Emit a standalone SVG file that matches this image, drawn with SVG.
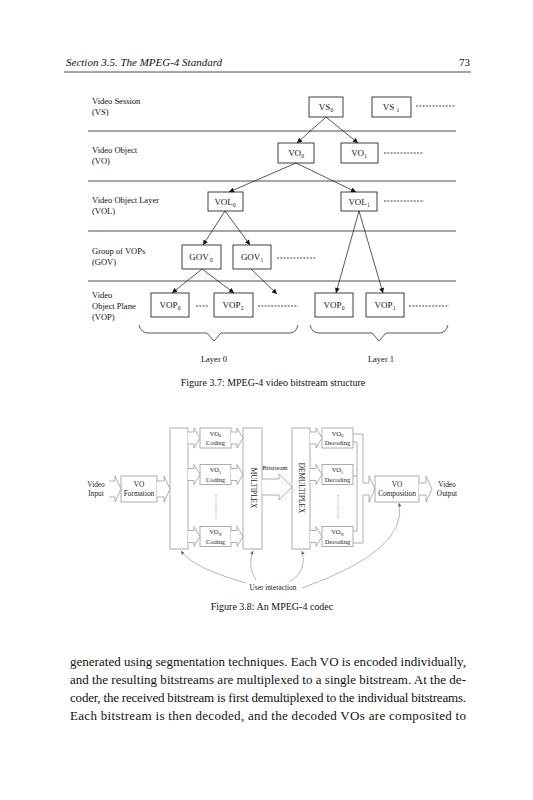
<svg xmlns="http://www.w3.org/2000/svg" width="533" height="800" viewBox="0 0 533 800">
<style>
text{font-family:"Liberation Serif","Times New Roman",serif;fill:#111}
.hdr{font-size:11px;font-style:italic}
.lab{font-size:8.5px}
.bt{font-size:9px;text-anchor:middle}
.sub{font-size:5.5px}
.cap{font-size:10px;text-anchor:middle}
.box{fill:#fff;stroke:#111;stroke-width:0.8}
.rule{stroke:#222;stroke-width:0.8}
.ln{stroke:#111;stroke-width:0.7;fill:none}
.dots{stroke:#111;stroke-width:0.8;stroke-dasharray:2 1.3}
.cb{fill:#fff;stroke:#9a9a9a;stroke-width:0.8}
.ha{fill:#fff;stroke:#9a9a9a;stroke-width:0.8}
.gl{fill:none;stroke:#9a9a9a;stroke-width:0.8}
.cu{fill:none;stroke:#888;stroke-width:0.6}
.ct{font-size:7.3px;text-anchor:middle;fill:#222}
.cbt{font-size:6.5px;text-anchor:middle;fill:#222}
.cs{font-size:4.5px}
.vd{stroke:#777;stroke-width:0.8;stroke-dasharray:1 1.2}
.body{font-size:13px}
</style>
<defs>
<marker id="ah" viewBox="0 0 10 10" refX="10" refY="5" markerWidth="6" markerHeight="5" markerUnits="userSpaceOnUse" orient="auto"><path d="M0,0 L10,5 L0,10 z" fill="#111"/></marker>
<marker id="gh" viewBox="0 0 10 10" refX="10" refY="5" markerWidth="4" markerHeight="3.5" markerUnits="userSpaceOnUse" orient="auto"><path d="M0,0 L10,5 L0,10 z" fill="#666"/></marker>
</defs>

<g id="header">
<text class="hdr" x="66" y="66">Section 3.5.  The MPEG-4 Standard</text>
<text class="hdr" x="470" y="66" text-anchor="end" style="font-style:normal">73</text>
<line class="rule" x1="64" y1="72" x2="471" y2="72"/>
</g>

<!-- Figure 3.7 -->
<g id="fig37-rules">
<line class="rule" x1="88" y1="131" x2="456" y2="131"/>
<line class="rule" x1="88" y1="181" x2="456" y2="181"/>
<line class="rule" x1="88" y1="231" x2="456" y2="231"/>
<line class="rule" x1="88" y1="281" x2="456" y2="281"/>
</g>
<g id="fig37-labels">
<text class="lab" x="92" y="104">Video Session</text>
<text class="lab" x="92" y="115">(VS)</text>
<text class="lab" x="92" y="153">Video Object</text>
<text class="lab" x="92" y="164">(VO)</text>
<text class="lab" x="92" y="203">Video Object Layer</text>
<text class="lab" x="92" y="214">(VOL)</text>
<text class="lab" x="92" y="254">Group of VOPs</text>
<text class="lab" x="92" y="265">(GOV)</text>
<text class="lab" x="92" y="298">Video</text>
<text class="lab" x="92" y="309">Object Plane</text>
<text class="lab" x="92" y="320">(VOP)</text>
</g>

<g id="VS0"><rect class="box" x="309" y="97" width="34" height="20"/><text class="bt" x="326" y="110">VS<tspan class="sub" dy="2">0</tspan></text></g>
<g id="VS1"><rect class="box" x="372" y="97" width="39" height="20"/><text class="bt" x="391" y="110">VS <tspan class="sub" dy="2">1</tspan></text></g>
<line class="dots" x1="416" y1="106" x2="455" y2="106"/>

<g id="VO0"><rect class="box" x="278" y="143" width="36" height="20"/><text class="bt" x="296" y="156">VO<tspan class="sub" dy="2">0</tspan></text></g>
<g id="VO1"><rect class="box" x="341" y="143" width="37" height="20"/><text class="bt" x="359" y="156">VO<tspan class="sub" dy="2">1</tspan></text></g>
<line class="dots" x1="384" y1="153" x2="423" y2="153"/>

<g id="VOL0"><rect class="box" x="208" y="192" width="35" height="19"/><text class="bt" x="225" y="205">VOL<tspan class="sub" dy="2">0</tspan></text></g>
<g id="VOL1"><rect class="box" x="341" y="192" width="36" height="19"/><text class="bt" x="359" y="205">VOL<tspan class="sub" dy="2">1</tspan></text></g>
<line class="dots" x1="384" y1="201" x2="424" y2="201"/>

<g id="GOV0"><rect class="box" x="182" y="245" width="39" height="24"/><text class="bt" x="201" y="260">GOV<tspan class="sub" dy="2"> 0</tspan></text></g>
<g id="GOV1"><rect class="box" x="233" y="245" width="38" height="24"/><text class="bt" x="252" y="260">GOV<tspan class="sub" dy="2">1</tspan></text></g>
<line class="dots" x1="277" y1="258" x2="316" y2="258"/>

<g id="VOP0a"><rect class="box" x="151" y="293" width="38" height="24"/><text class="bt" x="170" y="308">VOP<tspan class="sub" dy="2">0</tspan></text></g>
<line class="dots" x1="196" y1="306" x2="208" y2="306"/>
<g id="VOP2"><rect class="box" x="214" y="293" width="39" height="24"/><text class="bt" x="233" y="308">VOP<tspan class="sub" dy="2">2</tspan></text></g>
<line class="dots" x1="258" y1="306" x2="298" y2="306"/>
<g id="VOP0b"><rect class="box" x="315" y="293" width="38" height="24"/><text class="bt" x="334" y="308">VOP<tspan class="sub" dy="2">0</tspan></text></g>
<g id="VOP1"><rect class="box" x="366" y="293" width="38" height="24"/><text class="bt" x="385" y="308">VOP<tspan class="sub" dy="2">1</tspan></text></g>
<line class="dots" x1="409" y1="306" x2="449" y2="306"/>

<g id="fig37-connectors">
<line class="ln" x1="326" y1="117" x2="297" y2="143" marker-end="url(#ah)"/>
<line class="ln" x1="326" y1="117" x2="358" y2="143" marker-end="url(#ah)"/>
<line class="ln" x1="296" y1="163" x2="229" y2="192" marker-end="url(#ah)"/>
<line class="ln" x1="296" y1="163" x2="356" y2="192" marker-end="url(#ah)"/>
<line class="ln" x1="225" y1="211" x2="203" y2="245" marker-end="url(#ah)"/>
<line class="ln" x1="225" y1="211" x2="250" y2="245" marker-end="url(#ah)"/>
<line class="ln" x1="359" y1="211" x2="336" y2="293" marker-end="url(#ah)"/>
<line class="ln" x1="359" y1="211" x2="383" y2="293" marker-end="url(#ah)"/>
<line class="ln" x1="202" y1="269" x2="172" y2="293" marker-end="url(#ah)"/>
<line class="ln" x1="202" y1="269" x2="234" y2="293" marker-end="url(#ah)"/>
<line class="ln" x1="251" y1="269" x2="277" y2="294" marker-end="url(#ah)"/>
</g>

<g id="braces">
<path class="ln" d="M139,325 Q141,333 148,333 H207 L214,341 L221,333 H290 Q296,333 298,325"/>
<path class="ln" d="M310,325 Q312,333 319,333 H372 L379,341 L386,333 H440 Q446,333 448,325"/>
</g>
<text class="lab" x="214" y="362" text-anchor="middle">Layer 0</text>
<text class="lab" x="381" y="362" text-anchor="middle">Layer 1</text>
<text class="cap" x="273" y="386">Figure 3.7:  MPEG-4 video bitstream structure</text>

<!-- Figure 3.8 -->
<g id="input-label"><text class="ct" x="96" y="487">Video</text><text class="ct" x="96" y="496">Input</text></g>
<g id="vo-formation"><rect class="cb" x="121" y="476" width="36" height="26"/><text class="ct" x="139" y="487">VO</text><text class="ct" x="139" y="496">Formation</text></g>
<g id="splitter"><rect class="cb" x="170" y="428" width="18" height="121"/></g>
<g id="vo0-coding"><rect class="cb" x="200" y="428" width="31" height="20"/><text class="cbt" x="215.5" y="435.5">VO<tspan class="cs" dy="1.5">0</tspan></text><text class="cbt" x="215.5" y="445">Coding</text></g>
<g id="vo1-coding"><rect class="cb" x="200" y="464.5" width="31" height="20"/><text class="cbt" x="215.5" y="472">VO<tspan class="cs" dy="1.5">1</tspan></text><text class="cbt" x="215.5" y="481.5">Coding</text></g>
<g id="von-coding"><rect class="cb" x="200" y="526.5" width="31" height="20"/><text class="cbt" x="215.5" y="534">VO<tspan class="cs" dy="1.5">N</tspan></text><text class="cbt" x="215.5" y="543.5">Coding</text></g>
<line class="vd" x1="216" y1="495" x2="216" y2="518"/>
<g id="multiplex"><rect class="cb" x="243" y="428" width="19" height="121"/><text class="ct" transform="translate(250.5,488) rotate(90)" x="0" y="0">MULTIPLEX</text></g>
<g id="demultiplex"><rect class="cb" x="292" y="428" width="18" height="121"/><text class="ct" transform="translate(298.5,488) rotate(90)" x="0" y="0">DEMULTIPLEX</text></g>
<g id="vo0-decoding"><rect class="cb" x="322" y="428" width="31" height="20"/><text class="cbt" x="337.5" y="435.5">VO<tspan class="cs" dy="1.5">0</tspan></text><text class="cbt" x="337.5" y="445">Decoding</text></g>
<g id="vo1-decoding"><rect class="cb" x="322" y="464.5" width="31" height="20"/><text class="cbt" x="337.5" y="472">VO<tspan class="cs" dy="1.5">1</tspan></text><text class="cbt" x="337.5" y="481.5">Decoding</text></g>
<g id="von-decoding"><rect class="cb" x="322" y="526.5" width="31" height="20"/><text class="cbt" x="337.5" y="534">VO<tspan class="cs" dy="1.5">N</tspan></text><text class="cbt" x="337.5" y="543.5">Decoding</text></g>
<line class="vd" x1="338" y1="495" x2="338" y2="518"/>
<g id="vo-composition"><rect class="cb" x="375" y="476" width="44" height="26"/><text class="ct" x="397" y="487">VO</text><text class="ct" x="397" y="496">Composition</text></g>
<g id="output-label"><text class="ct" x="447" y="487">Video</text><text class="ct" x="447" y="496">Output</text></g>
<text class="cbt" x="275" y="470">Bitstream</text>

<g id="codec-connectors">
<path class="ha" d="M109,481 H115 V476 L121,489 L115,502 V497 H109"/>
<path class="ha" d="M157,481 H164 V476 L170,489 L164,502 V497 H157"/>
<path class="ha" d="M188,432 H194 V428 L200,438 L194,448 V444 H188"/>
<path class="ha" d="M188,468.5 H194 V464.5 L200,474.5 L194,484.5 V480.5 H188"/>
<path class="ha" d="M188,530.5 H194 V526.5 L200,536.5 L194,546.5 V542.5 H188"/>
<path class="ha" d="M231,432 H237 V428 L243,438 L237,448 V444 H231"/>
<path class="ha" d="M231,468.5 H237 V464.5 L243,474.5 L237,484.5 V480.5 H231"/>
<path class="ha" d="M231,530.5 H237 V526.5 L243,536.5 L237,546.5 V542.5 H231"/>
<path class="ha" d="M262,479 H279 V474 L292,487 L279,500 V495 H262"/>
<path class="ha" d="M310,432 H316 V428 L322,438 L316,448 V444 H310"/>
<path class="ha" d="M310,468.5 H316 V464.5 L322,474.5 L316,484.5 V480.5 H310"/>
<path class="ha" d="M310,530.5 H316 V526.5 L322,536.5 L316,546.5 V542.5 H310"/>
<path class="gl" d="M353,434 H363 V483 H369 V476 L375,489 L369,502 V495 H363 V543 H353"/>
<path class="gl" d="M353,442 H357 V531 H353"/>
<path class="gl" d="M353,476 H357"/>
<path class="ha" d="M419,483 H426 V476 L432,489 L426,502 V495 H419"/>
<path class="cu" d="M246,583 Q193,568 181,551" marker-end="url(#gh)"/>
<path class="cu" d="M256,580 Q247,566 253,551" marker-end="url(#gh)"/>
<path class="cu" d="M290,582 Q308,570 302,551" marker-end="url(#gh)"/>
<path class="cu" d="M302,588 Q409,550 399,503" marker-end="url(#gh)"/>
</g>
<text class="ct" x="273" y="590">User interaction</text>
<text class="cap" x="272" y="610">Figure 3.8:  An MPEG-4 codec</text>

<g id="body">
<text class="body" x="70" y="666" textLength="396" lengthAdjust="spacing">generated using segmentation techniques. Each VO is encoded individually,</text>
<text class="body" x="70" y="684" textLength="396" lengthAdjust="spacing">and the resulting bitstreams are multiplexed to a single bitstream. At the de-</text>
<text class="body" x="70" y="702" textLength="396" lengthAdjust="spacing">coder, the received bitstream is first demultiplexed to the individual bitstreams.</text>
<text class="body" x="70" y="720" textLength="396" lengthAdjust="spacing">Each bitstream is then decoded, and the decoded VOs are composited to</text>
</g>
</svg>
